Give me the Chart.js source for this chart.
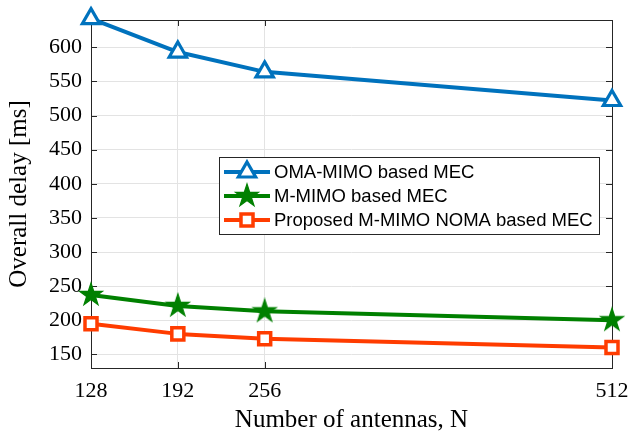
<!DOCTYPE html>
<html><head><meta charset="utf-8">
<script src="https://cdn.jsdelivr.net/npm/chart.js@4"></script>
<style>html,body{margin:0;padding:0;background:#fff}#wrap{width:629px;height:435px}</style>
</head><body><div id="wrap"><canvas id="c" width="629" height="435"></canvas></div>
<script>
const antennas = [128, 192, 256, 512];
const omaMimo = [642, 593, 564, 522];
const mMimo = [237, 221, 213, 200];
const proposed = [195, 180, 173, 160];
const yTicks = [150, 200, 250, 300, 350, 400, 450, 500, 550, 600];
const seriesLabels = ['OMA-MIMO based MEC', 'M-MIMO based MEC', 'Proposed M-MIMO NOMA based MEC'];
const xTitle = 'Number of antennas, N';
const yTitle = 'Overall delay [ms]';

const BLUE = '#0072BD', GREEN = '#008000', RED = '#FF3C00';

function makeStar(color, R) {
  const s = Math.ceil(R * 2 + 4);
  const c = document.createElement('canvas');
  c.width = s; c.height = s;
  const g = c.getContext('2d');
  const cx = s / 2, cy = s / 2;
  g.beginPath();
  for (let i = 0; i < 10; i++) {
    const r = i % 2 ? R * 0.382 : R;
    const a = -Math.PI / 2 + i * Math.PI / 5;
    g.lineTo(cx + r * Math.cos(a), cy + r * Math.sin(a));
  }
  g.closePath();
  g.fillStyle = color; g.fill();
  g.lineWidth = 1.2; g.strokeStyle = color; g.stroke();
  return c;
}
const starImg = makeStar(GREEN, 12);

function drawTri(ctx, x, y, r, color, lw) {
  ctx.beginPath();
  let rad = 0;
  for (let i = 0; i < 3; i++) {
    const px = x + Math.sin(rad) * r, py = y - Math.cos(rad) * r;
    i ? ctx.lineTo(px, py) : ctx.moveTo(px, py);
    rad += 2 * Math.PI / 3;
  }
  ctx.closePath();
  ctx.fillStyle = '#fff'; ctx.fill();
  ctx.lineWidth = lw; ctx.strokeStyle = color; ctx.stroke();
}
function drawRect(ctx, x, y, r, color, lw) {
  const s = Math.SQRT1_2 * r;
  ctx.beginPath(); ctx.rect(x - s, y - s, 2 * s, 2 * s);
  ctx.fillStyle = '#fff'; ctx.fill();
  ctx.lineWidth = lw; ctx.strokeStyle = color; ctx.stroke();
}

const framePlugin = {
  id: 'frame',
  beforeDatasetsDraw(chart) {
    const { ctx, chartArea: a, scales } = chart;
    ctx.save();
    ctx.strokeStyle = '#262626'; ctx.lineWidth = 1;
    ctx.beginPath();
    const L = 6;
    antennas.forEach(v => {
      const x = Math.round(scales.x.getPixelForValue(v)) + 0.5;
      ctx.moveTo(x, a.bottom); ctx.lineTo(x, a.bottom - L);
      ctx.moveTo(x, a.top); ctx.lineTo(x, a.top + L);
    });
    yTicks.forEach(v => {
      const y = Math.round(scales.y.getPixelForValue(v)) + 0.5;
      ctx.moveTo(a.left, y); ctx.lineTo(a.left + L, y);
      ctx.moveTo(a.right, y); ctx.lineTo(a.right - L, y);
    });
    ctx.stroke();
    ctx.strokeRect(Math.round(a.left) + 0.5, Math.round(a.top) + 0.5, Math.round(a.right - a.left), Math.round(a.bottom - a.top));
    ctx.restore();
  }
};

const legendPlugin = {
  id: 'boxLegend',
  afterDraw(chart) {
    const ctx = chart.ctx;
    const bx = 219, by = 157, bw = 380, bh = 77;
    ctx.save();
    ctx.fillStyle = '#fff';
    ctx.fillRect(bx, by, bw, bh);
    ctx.strokeStyle = '#262626'; ctx.lineWidth = 1;
    ctx.strokeRect(bx + 0.5, by + 0.5, bw, bh);
    const rows = [172, 196, 220];
    const colors = [BLUE, GREEN, RED];
    rows.forEach((y, i) => {
      ctx.strokeStyle = colors[i]; ctx.lineWidth = 4;
      ctx.beginPath(); ctx.moveTo(224, y); ctx.lineTo(270, y); ctx.stroke();
      if (i === 0) drawTri(ctx, 247, y, 10, BLUE, 3.2);
      else if (i === 1) ctx.drawImage(starImg, 247 - starImg.width / 2, y - starImg.height / 2);
      else drawRect(ctx, 247, y, 8.5, RED, 3.5);
      ctx.fillStyle = '#000';
      ctx.font = '18.5px "Liberation Sans", Arial, sans-serif';
      ctx.textBaseline = 'middle'; ctx.textAlign = 'left';
      ctx.fillText(chart.data.datasets[i].label, 274, y + 1);
    });
    ctx.restore();
  }
};

const mk = (vals) => antennas.map((x, i) => ({ x, y: vals[i] }));

new Chart(document.getElementById('c'), {
  type: 'line',
  data: {
    datasets: [
      { label: seriesLabels[0], data: mk(omaMimo), borderColor: BLUE, borderWidth: 4,
        pointStyle: 'triangle', pointRadius: 10, pointBorderWidth: 3.2,
        pointBackgroundColor: '#fff', pointBorderColor: BLUE, clip: false },
      { label: seriesLabels[1], data: mk(mMimo), borderColor: GREEN, borderWidth: 4,
        pointStyle: starImg, pointRadius: 12, clip: false },
      { label: seriesLabels[2], data: mk(proposed), borderColor: RED, borderWidth: 4,
        pointStyle: 'rect', pointRadius: 8.5, pointBorderWidth: 3.5,
        pointBackgroundColor: '#fff', pointBorderColor: RED, clip: false }
    ]
  },
  options: {
    responsive: false,
    animation: false,
    events: [],
    layout: { padding: { top: 20, right: 17, left: 0, bottom: 0 } },
    elements: { line: { tension: 0, borderJoinStyle: 'round', borderCapStyle: 'round' } },
    plugins: { legend: { display: false }, tooltip: { enabled: false } },
    scales: {
      x: {
        type: 'linear', min: 128, max: 512,
        afterBuildTicks: s => { s.ticks = antennas.map(v => ({ value: v })); },
        afterFit: s => { s.height = 67; s.paddingLeft = 0; s.paddingRight = 0; },
        grid: { color: '#e3e3e3', drawTicks: false },
        border: { display: false },
        ticks: { color: '#000', font: { family: '"Liberation Serif", serif', size: 22 }, padding: 10, maxRotation: 0, autoSkip: false },
        title: { display: true, text: xTitle, color: '#000', font: { family: '"Liberation Serif", serif', size: 25 }, padding: { top: 0, bottom: 0 } }
      },
      y: {
        type: 'linear', min: 130, max: 640,
        afterBuildTicks: s => { s.ticks = yTicks.map(v => ({ value: v })); },
        afterFit: s => { s.width = 91; s.paddingTop = 20; s.paddingBottom = 0; },
        grid: { color: '#e3e3e3', drawTicks: false },
        border: { display: false },
        ticks: { color: '#000', font: { family: '"Liberation Serif", serif', size: 22 }, padding: 9 },
        title: { display: true, text: yTitle, color: '#000', font: { family: '"Liberation Serif", serif', size: 25 }, padding: { top: 4, bottom: 0 } }
      }
    }
  },
  plugins: [framePlugin, legendPlugin]
});
</script></body></html>
